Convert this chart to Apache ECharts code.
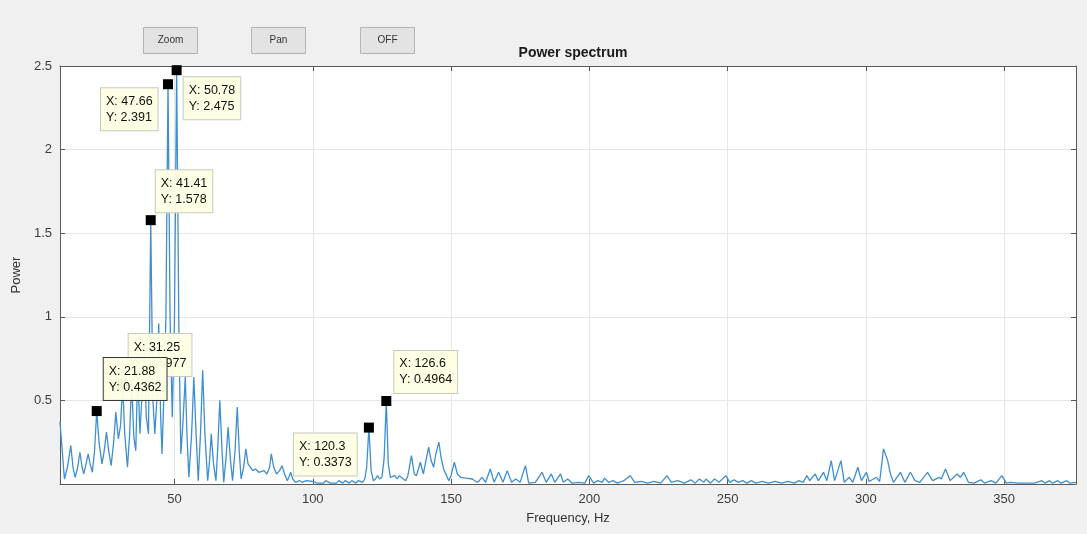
<!DOCTYPE html>
<html>
<head>
<meta charset="utf-8">
<script src="https://cdn.jsdelivr.net/npm/echarts@6/dist/echarts.min.js"></script>
<style>
  html, body { margin: 0; padding: 0; background: #f0f0f0; }
  #chart { width: 1087px; height: 534px; }
</style>
</head>
<body>
<div id="chart"></div>
<script>
// Power spectrum samples: [frequency (Hz), power]
const spectrum = [
  [8.6,0.37],[9.4,0.2],[10.2,0.03],[11.3,0.1],[12.5,0.23],[13.3,0.1],[14.1,0.04],[15.0,0.1],[15.8,0.19],[16.6,0.1],
  [17.2,0.06],[18.0,0.12],[18.8,0.18],[19.5,0.12],[20.3,0.07],[21.1,0.2],[21.88,0.4362],[22.7,0.25],[23.8,0.12],[24.6,0.2],
  [25.4,0.31],[26.2,0.2],[27.1,0.11],[28.0,0.25],[28.8,0.43],[29.7,0.27],[30.5,0.35],[31.25,0.5977],[32.0,0.3],[33.0,0.1],
  [33.8,0.3],[34.5,0.62],[35.3,0.28],[36.0,0.2],[36.7,0.68],[37.5,0.3],[38.2,0.3],[39.1,0.8],[39.8,0.4],[40.6,0.3],
  [41.41,1.578],[42.2,0.5],[42.9,0.3],[43.6,0.5],[44.3,0.96],[45.0,0.4],[45.5,0.18],[46.1,0.5],[46.9,1.0],[47.66,2.391],
  [48.4,1.0],[49.2,0.4],[50.0,1.0],[50.78,2.475],[51.6,0.9],[52.3,0.18],[53.0,0.35],[53.9,0.64],[54.5,0.3],[55.2,0.04],
  [56.2,0.3],[57.0,0.64],[57.8,0.3],[58.6,0.02],[59.4,0.3],[60.2,0.68],[61.0,0.3],[62.0,0.02],[62.6,0.12],[63.3,0.3],
  [64.1,0.12],[65.0,0.02],[65.6,0.2],[66.4,0.5],[67.2,0.2],[67.8,0.01],[68.6,0.15],[69.4,0.34],[70.2,0.15],[71.0,0.02],
  [71.9,0.2],[72.7,0.46],[73.4,0.2],[74.1,0.03],[75.0,0.1],[75.8,0.21],[76.6,0.12],[77.5,0.1],[78.3,0.08],[79.3,0.09],
  [80.5,0.07],[81.2,0.06],[82.4,0.08],[83.4,0.06],[84.4,0.1],[85.0,0.18],[85.9,0.1],[86.9,0.06],[88.0,0.08],[88.9,0.11],
  [89.8,0.06],[90.8,0.02],[91.4,0.04],[92.0,0.07],[92.8,0.03],[93.8,0.01],[95.3,0.02],[96.1,0.01],[97.7,0.02],[98.4,0.01],
  [100.0,0.015],[101.6,0.005],[102.3,0.015],[103.9,0.005],[104.7,0.02],[106.3,0.005],[107.0,0.015],[108.6,0.005],[109.4,0.02],[110.9,0.005],
  [111.7,0.02],[113.3,0.005],[114.1,0.02],[115.6,0.005],[116.4,0.02],[118.0,0.01],[118.8,0.03],[119.5,0.1],[120.3,0.3373],[121.1,0.08],
  [121.9,0.02],[122.7,0.03],[123.4,0.05],[124.2,0.03],[125.0,0.04],[125.8,0.15],[126.6,0.4964],[127.3,0.12],[128.1,0.04],[129.7,0.05],
  [130.5,0.03],[131.3,0.05],[132.0,0.06],[133.6,0.02],[134.4,0.05],[135.7,0.17],[136.7,0.06],[137.5,0.05],[138.9,0.13],[140.0,0.06],
  [140.6,0.05],[141.9,0.22],[142.8,0.14],[143.7,0.1],[144.5,0.18],[145.6,0.25],[146.4,0.16],[147.3,0.09],[148.4,0.05],[149.2,0.02],
  [150.0,0.05],[151.2,0.13],[152.3,0.06],[153.5,0.04],[155.5,0.035],[157.7,0.03],[159.4,0.01],[160.2,0.02],[161.2,0.04],[162.5,0.01],
  [164.2,0.09],[165.6,0.01],[167.2,0.07],[168.8,0.01],[170.3,0.08],[171.9,0.01],[173.4,0.03],[175.0,0.01],[176.9,0.11],[178.1,0.005],
  [180.5,0.01],[182.9,0.07],[184.4,0.01],[186.3,0.06],[187.5,0.01],[189.6,0.06],[190.6,0.01],[192.2,0.03],[193.8,0.005],[196.1,0.01],
  [198.4,0.005],[199.8,0.05],[201.6,0.005],[203.1,0.02],[204.7,0.01],[205.5,0.035],[207.0,0.01],[208.6,0.02],[210.2,0.005],[212.5,0.02],
  [214.8,0.05],[216.4,0.01],[218.8,0.015],[221.1,0.005],[223.4,0.015],[225.8,0.005],[228.1,0.05],[229.7,0.01],[232.0,0.02],[234.4,0.005],
  [236.7,0.025],[238.3,0.005],[239.8,0.03],[241.4,0.01],[242.2,0.03],[243.8,0.005],[245.3,0.03],[246.9,0.01],[249.4,0.05],[250.8,0.01],
  [252.3,0.025],[253.9,0.01],[255.5,0.02],[257.0,0.005],[258.6,0.02],[260.2,0.005],[262.5,0.015],[264.8,0.005],[267.2,0.015],[269.5,0.005],
  [271.9,0.015],[274.2,0.005],[275.8,0.02],[277.3,0.01],[278.7,0.05],[279.7,0.02],[281.7,0.06],[282.8,0.02],[284.7,0.07],[285.9,0.02],
  [287.5,0.14],[288.7,0.02],[291.0,0.14],[292.2,0.01],[294.0,0.04],[295.3,0.01],[297.1,0.1],[298.4,0.02],[300.2,0.07],[301.2,0.015],
  [303.8,0.04],[305.0,0.015],[306.4,0.21],[307.9,0.14],[308.9,0.06],[310.0,0.01],[312.5,0.07],[314.1,0.01],[316.1,0.07],[317.8,0.02],
  [319.5,0.01],[322.3,0.07],[324.2,0.02],[326.5,0.04],[327.3,0.03],[328.8,0.09],[330.5,0.02],[333.0,0.06],[334.2,0.04],[335.4,0.07],
  [337.1,0.01],[339.1,0.005],[341.6,0.025],[343.0,0.005],[345.3,0.02],[347.0,0.005],[349.2,0.05],[350.8,0.005],[352.3,0.01],[355.0,0.005],
  [357.8,0.005],[361.0,0.005],[363.7,0.02],[364.8,0.005],[366.4,0.02],[367.5,0.005],[369.5,0.02],[370.6,0.005],[372.7,0.02],[373.8,0.005],
  [376.0,0.01]
];

// Data tips placed on the spectrum peaks
const tipFreq  = [47.66, 50.78, 41.41, 31.25, 21.88, 120.3, 126.6];
const tipPower = [2.391, 2.475, 1.578, 0.5977, 0.4362, 0.3373, 0.4964];

// Axis ticks
const xTicks = [50, 100, 150, 200, 250, 300, 350];
const yTicks = [0, 0.5, 1, 1.5, 2, 2.5];

// Label box placement for each tip (relative to its marker), and border colour
const tipLabelPos = [[-62, 9], [12, 12], [10, -45], [11, -45], [12, -48], [-70, 11], [13, -45]];
const tipBorder   = ['#c9c9c0', '#c9c9c0', '#c9c9c0', '#c9c9c0', '#3a3a3a', '#c9c9c0', '#c9c9c0'];

const FONT = '"Liberation Sans", Arial, Helvetica, sans-serif';
const X_MIN = 8.6, X_MAX = 376;

const chart = echarts.init(document.getElementById('chart'), null, { renderer: 'canvas' });

function button(label, x) {
  return {
    type: 'group', left: x, top: 27,
    children: [
      { type: 'rect', shape: { x: 0, y: 0, width: 54, height: 26 },
        style: { fill: '#e3e3e3', stroke: '#b4b4b4', lineWidth: 1 } },
      { type: 'text', x: 27, y: 13,
        style: { text: label, fill: '#333', font: '10px ' + FONT, textAlign: 'center', textVerticalAlign: 'middle' } }
    ]
  };
}

const tipData = tipFreq.map((f, i) => ({
  value: [f, tipPower[i]],
  label: { position: tipLabelPos[i], borderColor: tipBorder[i] }
}));

const axisLineStyle = { color: '#5a5a5a', width: 1 };

chart.setOption({
  backgroundColor: '#f0f0f0',
  animation: false,
  title: {
    text: 'Power spectrum',
    left: 568, top: 41, textAlign: 'center',
    textStyle: { fontFamily: FONT, fontSize: 14, fontWeight: 'bold', color: '#1a1a1a' }
  },
  grid: { left: 60, right: 11, top: 66, bottom: 50, show: true, backgroundColor: '#ffffff', borderWidth: 0 },
  xAxis: [
    {
      type: 'value', min: X_MIN, max: X_MAX, position: 'bottom',
      name: 'Frequency, Hz', nameLocation: 'middle', nameGap: 28,
      nameTextStyle: { fontFamily: FONT, fontSize: 13, color: '#333' },
      axisLine: { show: true, onZero: false, lineStyle: axisLineStyle },
      axisTick: { show: true, inside: true, length: 5, customValues: xTicks, lineStyle: axisLineStyle },
      axisLabel: { customValues: xTicks, fontFamily: FONT, fontSize: 13, color: '#3c3c3c', margin: 9 },
      splitLine: { show: true, lineStyle: { color: '#e6e6e6', width: 1 } }
    },
    {
      type: 'value', min: X_MIN, max: X_MAX, position: 'top',
      axisLine: { show: true, onZero: false, lineStyle: axisLineStyle },
      axisTick: { show: true, inside: true, length: 5, customValues: xTicks, lineStyle: axisLineStyle },
      axisLabel: { show: false },
      splitLine: { show: false }
    }
  ],
  yAxis: [
    {
      type: 'value', min: 0, max: 2.5, interval: 0.5, position: 'left',
      name: 'Power', nameLocation: 'middle', nameGap: 33,
      nameTextStyle: { fontFamily: FONT, fontSize: 13, color: '#333' },
      axisLine: { show: true, onZero: false, lineStyle: axisLineStyle },
      axisTick: { show: true, inside: true, length: 5, lineStyle: axisLineStyle },
      axisLabel: {
        fontFamily: FONT, fontSize: 13, color: '#3c3c3c', margin: 8,
        formatter: v => (v === yTicks[0] ? '' : String(v))
      },
      splitLine: { show: true, lineStyle: { color: '#e6e6e6', width: 1 } }
    },
    {
      type: 'value', min: 0, max: 2.5, interval: 0.5, position: 'right',
      axisLine: { show: true, onZero: false, lineStyle: axisLineStyle },
      axisTick: { show: true, inside: true, length: 5, lineStyle: axisLineStyle },
      axisLabel: { show: false },
      splitLine: { show: false }
    }
  ],
  series: [
    {
      type: 'line', name: 'spectrum', xAxisIndex: 0, yAxisIndex: 0,
      data: spectrum, showSymbol: false, smooth: false,
      lineStyle: { color: '#3f8fcf', width: 1.3 },
      z: 2
    },
    {
      type: 'scatter', name: 'tips', xAxisIndex: 0, yAxisIndex: 0,
      data: tipData,
      symbol: 'rect', symbolSize: 10,
      itemStyle: { color: '#000000', opacity: 1 },
      label: {
        show: true,
        formatter: p => 'X: ' + p.value[0] + '\nY: ' + p.value[1],
        fontFamily: FONT, fontSize: 12.5, lineHeight: 16, color: '#111',
        backgroundColor: 'rgba(255,255,228,0.95)', borderWidth: 1, padding: [5, 5, 5, 5],
        align: 'left', verticalAlign: 'top', opacity: 1
      },
      z: 5
    }
  ],
  graphic: [ button('Zoom', 143), button('Pan', 251), button('OFF', 360) ]
});
</script>
</body>
</html>
